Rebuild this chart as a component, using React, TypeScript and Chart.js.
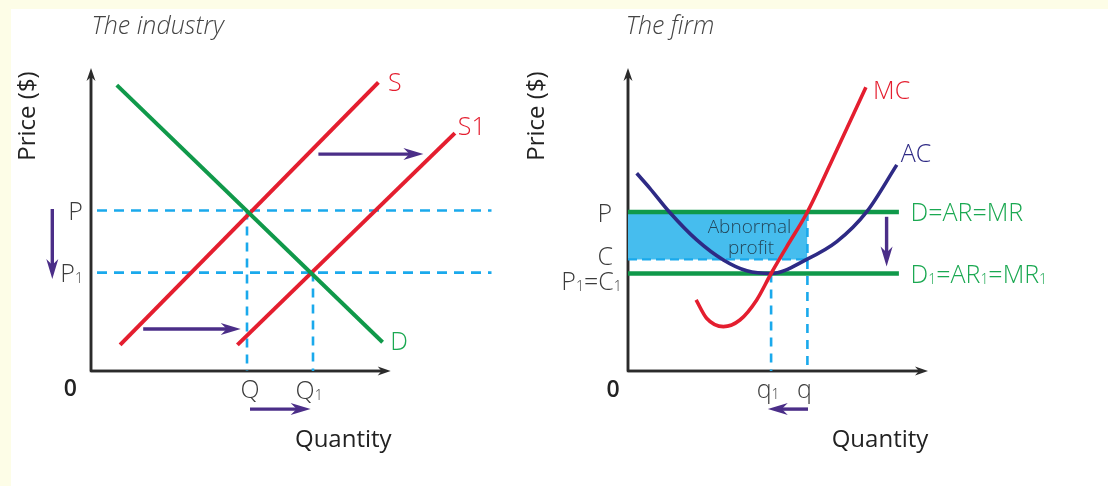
import React, { useEffect, useRef } from "react";
import { Chart, registerables } from "chart.js";

Chart.register(...registerables);

const W = 1108;
const H = 486;

// ---------- Industry panel data (axis units) ----------
const S_LINE: [number, number][] = [[0.97, 0.87], [9.58, 9.62]];
const S1_LINE: [number, number][] = [[4.88, 0.87], [12.13, 7.93]];
const D_LINE: [number, number][] = [[0.86, 9.53], [9.72, 0.96]];
const IND_PRICE = [5.35, 3.28]; // P, P1
const IND_QTY = [5.2, 7.4]; // Q, Q1
const IND_GUIDE_RANGE = [0.2, 13.35];

// ---------- Firm panel data (axis units) ----------
const AC_CURVE: [number, number][] = [
  [0.29, 6.59], [0.73, 6.09], [1.38, 5.3], [2.29, 4.37], [3.18, 3.7],
  [3.96, 3.34], [4.77, 3.25], [5.96, 3.72], [6.96, 4.31], [7.96, 5.31], [8.96, 6.87],
];
const MC_CURVE: [number, number][] = [
  [2.27, 2.37], [2.62, 1.76], [3.18, 1.48], [3.73, 1.7], [4.29, 2.37],
  [4.77, 3.25], [5.29, 4.14], [5.98, 5.3], [6.96, 7.37], [7.93, 9.46],
];
const FIRM_PRICE = [5.3, 3.25]; // P, P1 (=C1)
const FIRM_COST = 3.72; // C
const FIRM_QTY = [5.98, 4.77]; // q, q1
const FIRM_LINE_END = 9.03;

// ---------- styles ----------
const RED = "#e41e2f";
const GREEN = "#10994a";
const GREEN_TXT = "#1aa851";
const NAVY = "#2e2a85";
const BLUE = "#1aa9ec";
const FILL = "#46bdee";
const PURPLE = "#4b2e88";
const AXIS = "#2b2b2b";
const LABEL = "#3c3c3c";
const FAMILY = '"Open Sans", "Noto Sans", sans-serif';

type Seg = { t: string; sub?: boolean };
type Label = { segs: Seg[]; x: number; y: number; color: string; align?: CanvasTextAlign; size?: number; weight?: number; style?: string };
type Arrow = { from: [number, number]; to: [number, number] };

const pts = (a: [number, number][]) => a.map(([x, y]) => ({ x, y }));

function lineDs(data: any[], color: string, width: number, order: number, extra: any = {}) {
  return {
    type: "line",
    data,
    borderColor: color,
    borderWidth: width,
    pointRadius: 0,
    fill: false,
    clip: false,
    tension: 0,
    borderCapStyle: "butt",
    order,
    ...extra,
  };
}

function drawRich(ctx: CanvasRenderingContext2D, l: Label, px: number, py: number) {
  const size = l.size ?? 25;
  const weight = l.weight ?? 300;
  const style = l.style ?? "normal";
  const main = `${style} ${weight} ${size}px ${FAMILY}`;
  const subSize = Math.round(size * 0.56);
  const subFont = `${style} ${weight} ${subSize}px ${FAMILY}`;
  ctx.save();
  ctx.fillStyle = l.color;
  ctx.textBaseline = "alphabetic";
  ctx.textAlign = "left";
  const widths = l.segs.map((s) => {
    ctx.font = s.sub ? subFont : main;
    return ctx.measureText(s.t).width;
  });
  const total = widths.reduce((a, b) => a + b, 0);
  const align = l.align ?? "center";
  let x = align === "left" ? px : align === "right" ? px - total : px - total / 2;
  const base = py + size * 0.36;
  l.segs.forEach((s, i) => {
    ctx.font = s.sub ? subFont : main;
    ctx.fillText(s.t, x, s.sub ? base + size * 0.05 : base);
    x += widths[i];
  });
  ctx.restore();
}

function drawArrow(ctx: CanvasRenderingContext2D, x1: number, y1: number, x2: number, y2: number, color: string, lw: number, hl: number, hw: number) {
  const dx = x2 - x1, dy = y2 - y1;
  const len = Math.hypot(dx, dy);
  const ux = dx / len, uy = dy / len;
  const nx = -uy, ny = ux;
  ctx.save();
  ctx.strokeStyle = color;
  ctx.fillStyle = color;
  ctx.lineWidth = lw;
  ctx.lineCap = "butt";
  ctx.beginPath();
  ctx.moveTo(x1, y1);
  ctx.lineTo(x2 - ux * hl * 0.6, y2 - uy * hl * 0.6);
  ctx.stroke();
  ctx.beginPath();
  ctx.moveTo(x2, y2);
  ctx.lineTo(x2 - ux * hl + nx * hw / 2, y2 - uy * hl + ny * hw / 2);
  ctx.lineTo(x2 - ux * hl * 0.7, y2 - uy * hl * 0.7);
  ctx.lineTo(x2 - ux * hl - nx * hw / 2, y2 - uy * hl - ny * hw / 2);
  ctx.closePath();
  ctx.fill();
  ctx.restore();
}

function decorPlugin(axisTop: number, axisRight: number, labels: Label[], arrows: Arrow[], rotated: Label[]) {
  return {
    id: "decor",
    beforeDatasetsDraw(chart: any) {
      const ctx: CanvasRenderingContext2D = chart.ctx;
      const xs = chart.scales.x, ys = chart.scales.y;
      const ox = xs.getPixelForValue(0), oy = ys.getPixelForValue(0);
      ctx.save();
      ctx.strokeStyle = AXIS;
      ctx.lineWidth = 2.5;
      ctx.beginPath();
      ctx.moveTo(ox, oy + 1.2);
      ctx.lineTo(ox, ys.getPixelForValue(axisTop) + 8);
      ctx.moveTo(ox - 1.2, oy);
      ctx.lineTo(xs.getPixelForValue(axisRight) - 8, oy);
      ctx.stroke();
      ctx.restore();
      drawArrow(ctx, ox, oy, ox, ys.getPixelForValue(axisTop), AXIS, 2.5, 13, 9);
      drawArrow(ctx, ox, oy, xs.getPixelForValue(axisRight), oy, AXIS, 2.5, 13, 9);
    },
    afterDatasetsDraw(chart: any) {
      const ctx: CanvasRenderingContext2D = chart.ctx;
      const xs = chart.scales.x, ys = chart.scales.y;
      arrows.forEach((a) => {
        drawArrow(
          ctx,
          xs.getPixelForValue(a.from[0]), ys.getPixelForValue(a.from[1]),
          xs.getPixelForValue(a.to[0]), ys.getPixelForValue(a.to[1]),
          PURPLE, 3.4, 20, 12
        );
      });
      labels.forEach((l) => drawRich(ctx, l, xs.getPixelForValue(l.x), ys.getPixelForValue(l.y)));
      rotated.forEach((l) => {
        ctx.save();
        ctx.translate(xs.getPixelForValue(l.x), ys.getPixelForValue(l.y));
        ctx.rotate(-Math.PI / 2);
        drawRich(ctx, l, 0, 0);
        ctx.restore();
      });
    },
  };
}

function baseOptions(xMax: number, padLeft: number) {
  return {
    responsive: false,
    animation: false,
    events: [],
    layout: { padding: { left: padLeft, right: W - (padLeft + xMax * 30), top: 71, bottom: H - 371 } },
    scales: {
      x: { type: "linear", min: 0, max: xMax, display: false },
      y: { type: "linear", min: 0, max: 10, display: false },
    },
    plugins: { legend: { display: false }, tooltip: { enabled: false } },
  };
}

function industryConfig(): any {
  const [P, P1] = IND_PRICE;
  const [Q, Q1] = IND_QTY;
  const dash = { borderDash: [10, 7] };
  const datasets = [
    lineDs(pts(D_LINE), GREEN, 4, 1),
    lineDs(pts(S_LINE), RED, 4, 2),
    lineDs(pts(S1_LINE), RED, 4, 2),
    lineDs([{ x: IND_GUIDE_RANGE[0], y: P }, { x: IND_GUIDE_RANGE[1], y: P }], BLUE, 2.6, 5, dash),
    lineDs([{ x: IND_GUIDE_RANGE[0], y: P1 }, { x: IND_GUIDE_RANGE[1], y: P1 }], BLUE, 2.6, 5, dash),
    lineDs([{ x: Q, y: P }, { x: Q, y: 0 }], BLUE, 2.6, 5, { borderDash: [9, 7] }),
    lineDs([{ x: Q1, y: P1 }, { x: Q1, y: 0 }], BLUE, 2.6, 5, { borderDash: [9, 7] }),
  ];
  const labels: Label[] = [
    { segs: [{ t: "S" }], x: 10.13, y: 9.64, color: RED },
    { segs: [{ t: "S1" }], x: 12.69, y: 8.17, color: RED },
    { segs: [{ t: "D" }], x: 10.27, y: 1.01, color: GREEN_TXT },
    { segs: [{ t: "P" }], x: -0.27, y: P, color: LABEL, align: "right" },
    { segs: [{ t: "P" }, { t: "1", sub: true }], x: -0.27, y: P1 - 0.02, color: LABEL, align: "right" },
    { segs: [{ t: "Q" }], x: Q + 0.1, y: -0.6, color: LABEL },
    { segs: [{ t: "Q" }, { t: "1", sub: true }], x: Q1 - 0.13, y: -0.63, color: LABEL },
    { segs: [{ t: "0" }], x: -0.69, y: -0.57, color: "#222", size: 23, weight: 600 },
    { segs: [{ t: "Quantity" }], x: 8.41, y: -2.23, color: "#222", size: 24, weight: 500 },
    { segs: [{ t: "The industry" }], x: 2.22, y: 11.55, color: "#444", size: 25, weight: 300, style: "italic" },
  ];
  const arrows: Arrow[] = [
    { from: [7.58, 7.23], to: [11.08, 7.23] },
    { from: [1.74, 1.4], to: [4.99, 1.4] },
    { from: [5.3, -1.27], to: [7.32, -1.27] },
    { from: [-1.29, 5.4], to: [-1.29, 3.07] },
  ];
  const rotated: Label[] = [
    { segs: [{ t: "Price ($)" }], x: -2.15, y: 8.5, color: "#222", size: 24, weight: 500 },
  ];
  return {
    type: "line",
    data: { datasets },
    options: baseOptions(14, 91),
    plugins: [decorPlugin(10.1, 9.99, labels, arrows, rotated)],
  };
}

function firmConfig(): any {
  const [P, P1] = FIRM_PRICE;
  const [q, q1] = FIRM_QTY;
  const curve = { tension: 0.4, cubicInterpolationMode: "monotone" };
  const datasets = [
    lineDs(pts(MC_CURVE), RED, 3.6, 1, curve),
    lineDs(pts(AC_CURVE), NAVY, 3.6, 2, curve),
    lineDs([{ x: 0, y: P }, { x: FIRM_LINE_END, y: P }], GREEN, 4.6, 3),
    lineDs([{ x: 0, y: P1 }, { x: FIRM_LINE_END, y: P1 }], GREEN, 4.6, 3),
    lineDs([{ x: q, y: P }, { x: q, y: 0 }], BLUE, 2.6, 4, { borderDash: [9, 7] }),
    lineDs([{ x: q1, y: P1 }, { x: q1, y: 0 }], BLUE, 2.6, 4, { borderDash: [9, 7] }),
    lineDs([{ x: 0, y: FIRM_COST }, { x: q, y: FIRM_COST }], BLUE, 2.2, 4, { borderDash: [9, 5] }),
    lineDs([{ x: 0, y: P }, { x: q, y: P }], "rgba(0,0,0,0)", 0, 6, {
      fill: { value: FIRM_COST },
      backgroundColor: FILL,
    }),
  ];
  const labels: Label[] = [
    { segs: [{ t: "MC" }], x: 8.17, y: 9.37, color: RED, align: "left", size: 25 },
    { segs: [{ t: "AC" }], x: 9.09, y: 7.27, color: NAVY, align: "left", size: 25 },
    { segs: [{ t: "D=AR=MR" }], x: 9.42, y: P, color: GREEN_TXT, align: "left" },
    {
      segs: [{ t: "D" }, { t: "1", sub: true }, { t: "=AR" }, { t: "1", sub: true }, { t: "=MR" }, { t: "1", sub: true }],
      x: 9.42, y: P1 - 0.02, color: GREEN_TXT, align: "left",
    },
    { segs: [{ t: "P" }], x: -0.53, y: P - 0.02, color: LABEL, align: "right" },
    { segs: [{ t: "C" }], x: -0.5, y: FIRM_COST + 0.11, color: LABEL, align: "right" },
    {
      segs: [{ t: "P" }, { t: "1", sub: true }, { t: "=C" }, { t: "1", sub: true }],
      x: -0.21, y: P1 - 0.24, color: LABEL, align: "right",
    },
    { segs: [{ t: "Abnormal" }], x: 4.05, y: 4.83, color: "#23465a", size: 19 },
    { segs: [{ t: "profit" }], x: 4.1, y: 4.13, color: "#23465a", size: 19 },
    { segs: [{ t: "q" }, { t: "1", sub: true }], x: q1 - 0.1, y: -0.6, color: LABEL },
    { segs: [{ t: "q" }], x: q - 0.1, y: -0.6, color: LABEL },
    { segs: [{ t: "0" }], x: -0.5, y: -0.6, color: "#222", size: 23, weight: 600 },
    { segs: [{ t: "Quantity" }], x: 8.4, y: -2.23, color: "#222", size: 24, weight: 500 },
    { segs: [{ t: "The firm" }], x: 1.4, y: 11.55, color: "#444", size: 25, weight: 300, style: "italic" },
  ];
  const arrows: Arrow[] = [
    { from: [8.62, 5.14], to: [8.62, 3.48] },
    { from: [6.0, -1.27], to: [4.66, -1.27] },
  ];
  const rotated: Label[] = [
    { segs: [{ t: "Price ($)" }], x: -3.1, y: 8.5, color: "#222", size: 24, weight: 500 },
  ];
  return {
    type: "line",
    data: { datasets },
    options: baseOptions(10, 628),
    plugins: [decorPlugin(10.1, 10, labels, arrows, rotated)],
  };
}

function ChartCanvas({ make }: { make: () => any }) {
  const ref = useRef<HTMLCanvasElement | null>(null);
  useEffect(() => {
    if (!ref.current) return;
    const chart = new Chart(ref.current, make());
    return () => chart.destroy();
  }, [make]);
  return (
    <canvas
      ref={ref}
      width={W}
      height={H}
      style={{ position: "absolute", left: 0, top: 0, width: W, height: H }}
    />
  );
}

export default function App() {
  return (
    <div style={{ position: "fixed", left: 0, top: 0, width: W, height: H, background: "#ffffff", overflow: "hidden" }}>
      <div style={{ position: "absolute", left: 0, top: 0, width: W, height: 9, background: "#fdfde7" }} />
      <div style={{ position: "absolute", left: 0, top: 0, width: 11, height: H, background: "#fdfde7" }} />
      <ChartCanvas make={industryConfig} />
      <ChartCanvas make={firmConfig} />
    </div>
  );
}
